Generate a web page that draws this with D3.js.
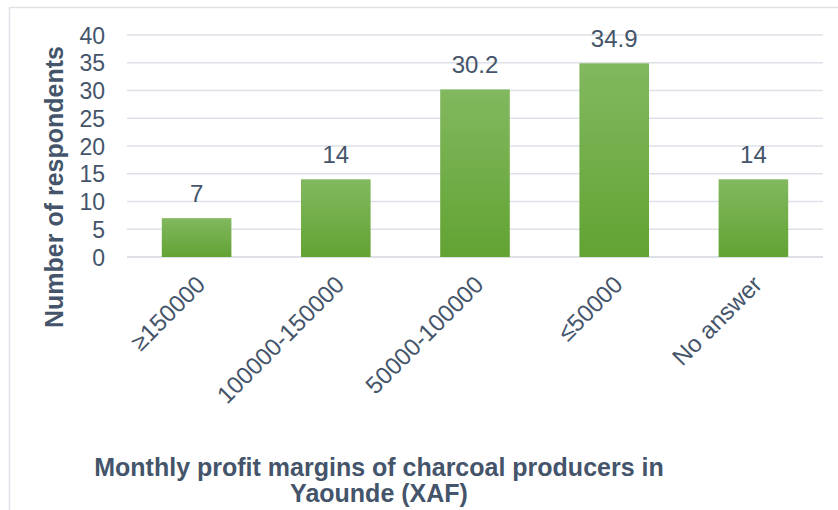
<!DOCTYPE html>
<html>
<head>
<meta charset="utf-8">
<script src="https://cdn.jsdelivr.net/npm/d3@7"></script>
<style>
  body { margin: 0; background: #fff; }
  text { font-family: "Liberation Sans", Arial, sans-serif; fill: #44546a; }
</style>
</head>
<body>
<div id="chart"></div>
<script>
var categories = ["\u2265150000", "100000-150000", "50000-100000", "\u226450000", "No answer"];
var values = [7, 14, 30.2, 34.9, 14];
var valueLabels = ["7", "14", "30.2", "34.9", "14"];
var yTicks = [0, 5, 10, 15, 20, 25, 30, 35, 40];
var yTitle = "Number of respondents";
var xTitle = ["Monthly profit margins of charcoal producers in", "Yaounde (XAF)"];

var width = 838;
var height = 510;

var svg = d3.select("#chart").append("svg")
    .attr("width", width)
    .attr("height", height);

/* gradient for bars */
var grad = svg.append("defs").append("linearGradient")
    .attr("id", "barGrad")
    .attr("x1", 0).attr("y1", 0).attr("x2", 0).attr("y2", 1);
grad.append("stop").attr("offset", "0%").attr("stop-color", "#82b85f");
grad.append("stop").attr("offset", "100%").attr("stop-color", "#62a333");

/* outer border, runs off the right and bottom edge */
svg.append("rect")
    .attr("x", 9.5).attr("y", 7.5)
    .attr("width", 900).attr("height", 600)
    .attr("fill", "none")
    .attr("stroke", "#dfe3e8")
    .attr("stroke-width", 1.5);

var xScale = d3.scaleBand()
    .domain(categories)
    .range([127, 823])
    .paddingInner(0.5)
    .paddingOuter(0.25);

var yScale = d3.scaleLinear()
    .domain([0, 40])
    .range([257, 35]);

/* gridlines */
svg.append("g")
    .selectAll("line")
    .data(yTicks).enter()
    .append("line")
    .attr("x1", 127)
    .attr("x2", 823)
    .attr("y1", d => yScale(d))
    .attr("y2", d => yScale(d))
    .attr("stroke", "#dde1e7")
    .attr("stroke-width", d => d == 0 ? 2 : 1.5);

/* y axis tick labels */
var yAxis = d3.axisLeft(yScale).tickValues(yTicks).tickSize(0).tickPadding(0);
var yg = svg.append("g")
    .attr("transform", "translate(105,0)")
    .call(yAxis);
yg.select(".domain").remove();
yg.selectAll("text")
    .style("font-size", "23px")
    .attr("fill", "#44546a")
    .attr("dy", "0.35em");

/* bars */
svg.append("g")
    .selectAll("rect")
    .data(values).enter()
    .append("rect")
    .attr("x", (d, i) => xScale(categories[i]))
    .attr("y", d => yScale(d))
    .attr("width", xScale.bandwidth())
    .attr("height", d => yScale(0) - yScale(d))
    .attr("fill", "url(#barGrad)");

/* value labels */
svg.append("g")
    .selectAll("text")
    .data(values).enter()
    .append("text")
    .attr("x", (d, i) => xScale(categories[i]) + xScale.bandwidth() / 2)
    .attr("y", d => yScale(d) - 16)
    .attr("text-anchor", "middle")
    .style("font-size", "24px")
    .text((d, i) => valueLabels[i]);

/* category labels, rotated */
var xAxis = d3.axisBottom(xScale).tickSize(0).tickPadding(0);
var xg = svg.append("g")
    .attr("transform", "translate(0,257)")
    .call(xAxis);
xg.select(".domain").remove();
xg.selectAll("text")
    .style("font-size", "24px")
    .attr("fill", "#44546a")
    .attr("text-anchor", "end")
    .attr("dy", 0)
    .attr("y", 0)
    .attr("transform", "translate(10,29) rotate(-45)");

/* y axis title */
svg.append("text")
    .attr("transform", "translate(63,187) rotate(-90)")
    .attr("text-anchor", "middle")
    .style("font-size", "25px")
    .style("font-weight", "bold")
    .text(yTitle);

/* x axis title */
svg.append("g")
    .selectAll("text")
    .data(xTitle).enter()
    .append("text")
    .attr("x", 379)
    .attr("y", (d, i) => 476 + i * 26)
    .attr("text-anchor", "middle")
    .style("font-size", "25px")
    .style("font-weight", "bold")
    .text(d => d);
</script>
</body>
</html>
